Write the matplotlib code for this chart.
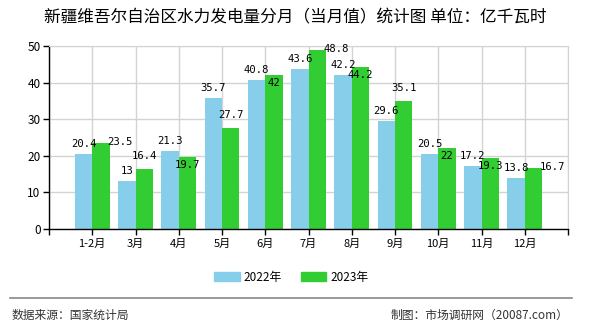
import matplotlib
matplotlib.use('Agg')
import matplotlib.pyplot as plt
import matplotlib.patches as mpatches
import numpy as np

plt.rcParams['font.family'] = ['Noto Sans CJK SC', 'DejaVu Sans']

months = ['1-2月', '3月', '4月', '5月', '6月', '7月', '8月', '9月', '10月', '11月', '12月']
hydro_2022 = [20.4, 13, 21.3, 35.7, 40.8, 43.6, 42.2, 29.6, 20.5, 17.2, 13.8]
hydro_2023 = [23.5, 16.4, 19.7, 27.7, 42, 48.8, 44.2, 35.1, 22, 19.3, 16.7]
series_names = ['2022年', '2023年']

# where each 2023 value label sits relative to its bar
label_2023_mode = ['right', 'above', 'inside', 'above', 'inside', 'right',
                   'inside', 'above', 'inside', 'inside', 'right']

c_2022 = '#87CEEB'
c_2023 = '#32CD32'

fig = plt.figure(figsize=(5.9, 3.3), dpi=100)
ax = fig.add_axes([49 / 590, 1 - 229 / 330, 519 / 590, 183 / 330])

x = np.arange(1, len(months) + 1)
w = 0.4
ax.bar(x - w / 2, hydro_2022, width=w, color=c_2022, zorder=2)
ax.bar(x + w / 2, hydro_2023, width=w, color=c_2023, zorder=2)

lbl_font = dict(family='DejaVu Sans Mono', fontsize=7.6, color='black', zorder=3)
for xi, v in zip(x, hydro_2022):
    ax.annotate(f'{v:g}', (xi - w / 2, v), xytext=(0, 10), textcoords='offset pixels',
                ha='center', va='center', **lbl_font)
for xi, v, m in zip(x, hydro_2023, label_2023_mode):
    if m == 'above':
        off = (0, 13)
    elif m == 'inside':
        off = (0, -8)
    else:
        off = (19, 1)
    ax.annotate(f'{v:g}', (xi + w / 2, v), xytext=off, textcoords='offset pixels',
                ha='center', va='center', **lbl_font)

ax.set_xlim(0, 12)
ax.set_ylim(0, 50)
ax.set_yticks(range(0, 51, 10))
ax.set_xticks(range(0, 13))
ax.set_xticklabels([''] + months + [''])
ax.tick_params(axis='both', labelsize=8, length=4, width=1, color='black', pad=3)
ax.tick_params(axis='y', labelsize=8.5, pad=2)
ax.grid(True, color='#d3d3d3', linewidth=1, zorder=0)
ax.set_axisbelow(True)
for s in ['top', 'right']:
    ax.spines[s].set_color('#d3d3d3')
for s in ['left', 'bottom']:
    ax.spines[s].set_color('black')
    ax.spines[s].set_linewidth(1)

fig.text(0.5, 1 - 18 / 330, '新疆维吾尔自治区水力发电量分月（当月值）统计图 单位：亿千瓦时',
         ha='center', va='center', fontsize=12, color='black')

handles = [mpatches.Patch(color=c_2022, label=series_names[0]),
           mpatches.Patch(color=c_2023, label=series_names[1])]
fig.legend(handles=handles, loc='center', bbox_to_anchor=(291 / 590, 1 - 277 / 330),
           ncol=2, frameon=False, fontsize=8.5, handlelength=2.2, handleheight=0.9,
           handletextpad=0.3, columnspacing=1.6)

fig.add_artist(plt.Line2D([10 / 590, 572 / 590], [1 - 298 / 330] * 2,
                          color='#888888', linewidth=1.2, transform=fig.transFigure))
fig.text(12 / 590, 1 - 315 / 330, '数据来源：国家统计局', ha='left', va='center',
         fontsize=8.5, color='#333333')
fig.text(568 / 590, 1 - 315 / 330, '制图：市场调研网（20087.com）', ha='right', va='center',
         fontsize=8.5, color='#333333')

fig.savefig('out.png', dpi=100)
